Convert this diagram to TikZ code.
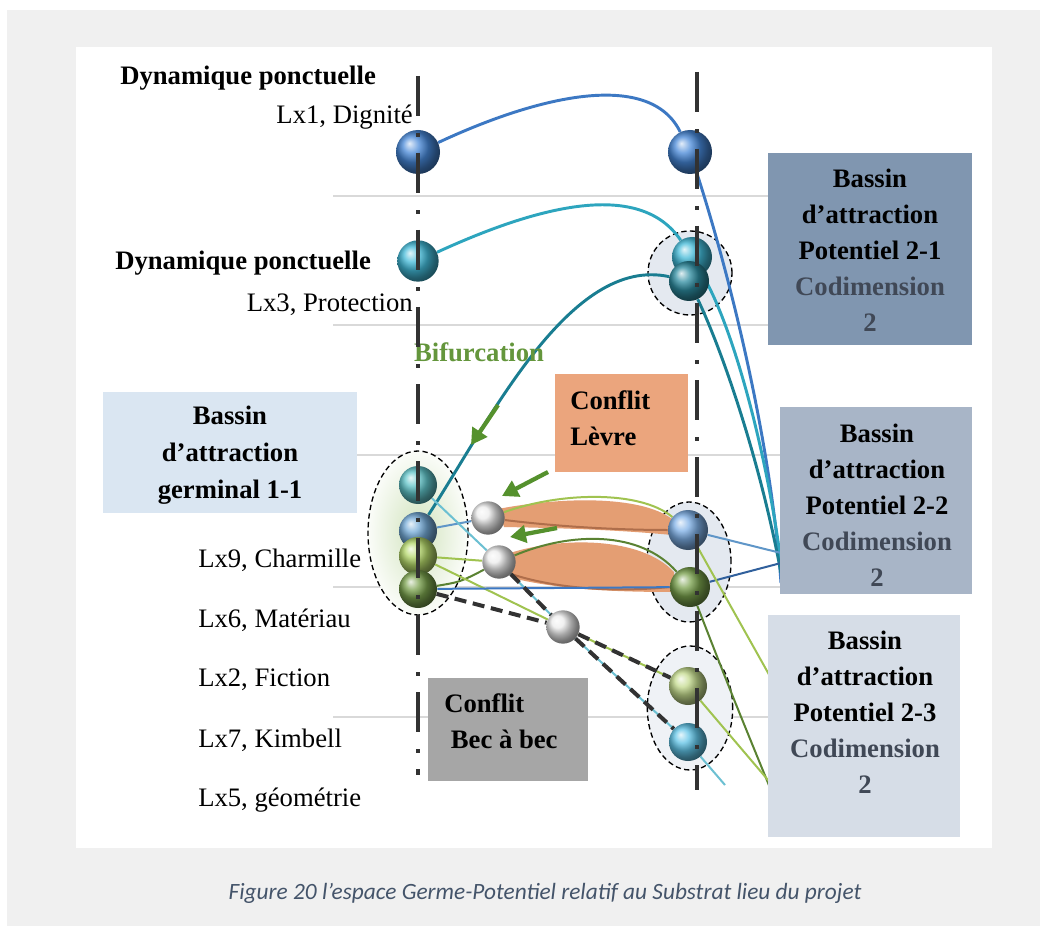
\documentclass[tikz,border=0pt]{standalone}
\usepackage{fontspec}
\setmainfont{Liberation Serif}
\newfontfamily\capfont{Carlito}
\usetikzlibrary{
    arrows.meta,
    shapes.geometric
}
\pgfdeclarelayer{grid}
\pgfdeclarelayer{curves}
\pgfsetlayers{grid,curves,main}
\definecolor{pagegray}{RGB}{240, 240, 240}
\definecolor{gridgray}{RGB}{217, 217, 217}
\definecolor{axisgray}{RGB}{50, 50, 50}
\definecolor{capblue}{RGB}{68, 84, 106}
\definecolor{ballblue}{RGB}{70, 135, 215}
\definecolor{ballcyan}{RGB}{65, 185, 215}
\definecolor{ballteal}{RGB}{45, 140, 160}
\definecolor{ballaqua}{RGB}{95, 195, 200}
\definecolor{ballsteel}{RGB}{115, 170, 215}
\definecolor{balllgreen}{RGB}{180, 215, 105}
\definecolor{balldgreen}{RGB}{120, 160, 75}
\definecolor{balllblue}{RGB}{125, 175, 230}
\definecolor{ballsky}{RGB}{95, 195, 230}
\definecolor{ballpale}{RGB}{195, 218, 140}
\definecolor{lineblue}{RGB}{60, 120, 195}
\definecolor{linecyan}{RGB}{45, 165, 190}
\definecolor{lineteal}{RGB}{25, 125, 145}
\definecolor{linesteel}{RGB}{95, 150, 200}
\definecolor{linelgreen}{RGB}{160, 195, 80}
\definecolor{linedgreen}{RGB}{90, 130, 50}
\definecolor{linebrown}{RGB}{175, 110, 75}
\definecolor{lipfill}{RGB}{228, 158, 115}
\definecolor{arrowgreen}{RGB}{85, 145, 45}
\definecolor{bifgreen}{RGB}{100, 150, 60}
\definecolor{pot21}{RGB}{128, 150, 176}
\definecolor{pot22}{RGB}{168, 181, 199}
\definecolor{pot23}{RGB}{214, 221, 231}
\definecolor{germfill}{RGB}{218, 230, 242}
\definecolor{levrefill}{RGB}{235, 165, 125}
\definecolor{becfill}{RGB}{166, 166, 166}
\definecolor{codim}{RGB}{64, 72, 86}
\definecolor{germglow}{RGB}{210, 228, 190}
\definecolor{basinfill}{RGB}{228, 233, 240}

\begin{document}
\begin{tikzpicture}[x=0.75pt, y=-0.75pt,
        ball/.style 2 args={circle, inner sep=0pt, minimum size=#1, ball color=#2},
        lbl/.style={font=\fontsize{20}{24}\selectfont, inner sep=0pt},
        blbl/.style={font=\fontsize{20}{24}\selectfont\bfseries, inner sep=0pt},
        boxtxt/.style={font=\fontsize{20}{27}\selectfont\bfseries, align=center, inner sep=0pt},
        gridline/.style={draw=gridgray, line width=1.5pt},
        axis/.style={draw=axisgray, line width=2.6pt, dash pattern=on 30pt off 13pt on 2.5pt off 12.25pt},
        basin/.style={draw=black, line width=1pt, dash pattern=on 4pt off 2.5pt},
        curve/.style={line width=2.2pt},
        thincurve/.style={line width=1.5pt},
        conflict/.style={draw=axisgray, line width=3pt, dash pattern=on 9pt off 5pt},
        hint/.style={draw=arrowgreen, line width=3.2pt, -{Triangle[length=12pt, width=13pt]}}
    ]
        \useasboundingbox (0,0) rectangle (1046,934);

        \begin{pgfonlayer}{grid}
        % Page
        \fill[pagegray] (7,10) rectangle (1040,926);
        \fill[white] (76,47) rectangle (992,848);

        % Grid
        \draw[gridline] (333,196) -- (785,196);
        \draw[gridline] (333,325) -- (785,325);
        \draw[gridline] (333,455) -- (785,455);
        \draw[gridline] (333,587) -- (785,587);
        \draw[gridline] (333,717) -- (785,717);

        % Basins
        \draw[basin, inner color=germglow, outer color=white!90!germglow] (418,533) ellipse [x radius=37.5pt, y radius=61.5pt];
        \draw[basin, fill=basinfill] (690,273) circle [radius=31.5pt];
        \draw[basin, fill=basinfill] (689,562) ellipse [x radius=31.5pt, y radius=45pt];
        \draw[basin, fill=basinfill!60!white] (690,708) ellipse [x radius=32pt, y radius=46.5pt];
        \end{pgfonlayer}

        % Germs on the left axis
        \node[ball={33pt}{ballblue}] (L1) at (418,152) {};
        \node[ball={31pt}{ballcyan}] (L3) at (418,261) {};
        \node[ball={28.5pt}{ballaqua}] (Ga) at (418,485) {};
        \node[ball={28.5pt}{ballsteel}] (Gb) at (418,531) {};
        \node[ball={28.5pt}{balllgreen}] (Gc) at (418,556) {};
        \node[ball={28.5pt}{balldgreen}] (Gd) at (418,589) {};

        % Potentials on the right axis
        \node[ball={33pt}{ballblue}] (R1) at (690,152) {};
        \node[ball={30pt}{ballcyan}] (R3a) at (692,257) {};
        \node[ball={30pt}{ballteal}] (R3b) at (689,281) {};
        \node[ball={30pt}{balllblue}] (R2a) at (688,530) {};
        \node[ball={30pt}{balldgreen}] (R2b) at (690,587) {};
        \node[ball={28.5pt}{ballpale}] (R4a) at (688,686) {};
        \node[ball={28.5pt}{ballsky}] (R4b) at (688,742) {};

        % Conflict points
        \node[ball={25pt}{gray!15}] (C1) at (488,518) {};
        \node[ball={25pt}{gray!15}] (C2) at (499,562) {};
        \node[ball={25pt}{gray!15}] (C3) at (563,627) {};

        % Free ends
        \coordinate (k1) at (781,553);
        \coordinate (k2) at (781,563);
        \coordinate (k3) at (781,573);
        \coordinate (k4) at (781,583);
        \coordinate (cyanend) at (725,785);
        \coordinate (lg1) at (790,712);
        \coordinate (lg2) at (785,800);
        \coordinate (dg1) at (775,800);

        \begin{pgfonlayer}{curves}
        % Lip conflict
        \fill[lipfill] (498,509) .. controls (560,497) and (640,495) .. (672,519) -- (672,535) .. controls (620,530) and (560,528) .. (504,527) -- cycle;
        \fill[lipfill] (510,553) .. controls (560,537) and (640,536) .. (674,572) -- (674,592) .. controls (620,592) and (560,590) .. (512,578) -- cycle;
        \draw[thincurve, linelgreen] (C1) .. controls (560,492) and (640,490) .. (R2a);
        \draw[thincurve, linebrown] (C1) .. controls (570,528) and (630,530) .. (R2a);
        \draw[thincurve, linebrown] (C2.south east) .. controls (560,590) and (620,592) .. (R2b.west);
        \draw[thincurve, linedgreen] (Gd) .. controls (460,582) .. (C2);
        \draw[thincurve, linedgreen] (C2) .. controls (570,532) and (640,530) .. (R2b);

        % Left to right
        \draw[curve, lineblue] (L1) .. controls (540,95) and (650,70) .. (R1);
        \draw[curve, linecyan] (L3) .. controls (540,205) and (640,180) .. (R3a);
        \draw[curve, lineteal] (Gb) .. controls (490,420) and (570,255) .. (R3b);

        % Down to the potential basins
        \draw[curve, lineblue] (R1) .. controls (725,260) and (770,430) .. (k4);
        \draw[curve, linecyan] (R3a) .. controls (735,330) and (768,460) .. (k2);
        \draw[curve, lineteal] (R3b) .. controls (722,350) and (760,460) .. (k3);
        \draw[thincurve, linesteel] (R2a) -- (k1);
        \draw[thincurve, lineblue!80!black] (R2b) -- (k2);
        \draw[thincurve, linelgreen] (R2a) -- (lg1);
        \draw[thincurve, linedgreen] (R2b) .. controls (730,690) .. (dg1);
        \draw[thincurve, linelgreen] (R4a) -- (lg2);

        % Germinal basin links
        \draw[thincurve, linesteel] (Gb) -- (C1);
        \draw[thincurve, linecyan!70] (Ga) -- (C2) -- (C3) -- (R4b) -- (cyanend);
        \draw[thincurve, linelgreen] (Gc) -- (C2);
        \draw[thincurve, linelgreen] (Gc) -- (C3) -- (R4a);
        \draw[thincurve, lineblue] (Gd) -- (R2b);

        % Beak to beak
        \draw[conflict] (Gd) -- (C3) -- (R4a);
        \draw[conflict] (C2) -- (C3) -- (R4b);
        \end{pgfonlayer}

        % Potential basins
        \fill[pot21] (768,153) rectangle (972,345);
        \node[boxtxt] (p21) at (870,250) {Bassin\\d’attraction\\Potentiel 2-1\\\textcolor{codim}{Codimension}\\\textcolor{codim}{2}};
        \fill[pot22] (780,407) rectangle (972,594);
        \node[boxtxt] (p22) at (877,505) {Bassin\\d’attraction\\Potentiel 2-2\\\textcolor{codim}{Codimension}\\\textcolor{codim}{2}};
        \fill[pot23] (768,615) rectangle (960,837);
        \node[boxtxt] (p23) at (865,712) {Bassin\\d’attraction\\Potentiel 2-3\\\textcolor{codim}{Codimension}\\\textcolor{codim}{2}};

        % Germinal basin
        \fill[germfill] (103,392) rectangle (357,513);
        \node[boxtxt, font=\fontsize{20}{27.75}\selectfont\bfseries] (g11) at (230,455) {Bassin\\d’attraction\\germinal 1-1};

        % Conflicts
        \fill[levrefill] (555,374) rectangle (688,472);
        \node[boxtxt, align=left, anchor=west] (lev) at (570,418) {Conflit\\Lèvre};
        \fill[becfill] (428,678) rectangle (588,781);
        \node[boxtxt, align=left, anchor=west] (bec) at (444,721) {Conflit\\\ Bec à bec};

        % Left labels
        \node[blbl, anchor=west] (dyn1) at (120,78) {Dynamique ponctuelle};
        \node[lbl, anchor=east] (lx1) at (413,117) {Lx1, Dignité};
        \node[blbl, anchor=west] (dyn3) at (115,263) {Dynamique ponctuelle};
        \node[lbl, anchor=east] (lx3) at (413,305) {Lx3, Protection};
        \node[lbl, anchor=west] (lx9) at (198,560) {Lx9, Charmille};
        \node[lbl, anchor=west] (lx6) at (198,620) {Lx6, Matériau};
        \node[lbl, anchor=west] (lx2) at (198,680) {Lx2, Fiction};
        \node[lbl, anchor=west] (lx7) at (198,740) {Lx7, Kimbell};
        \node[lbl, anchor=west] (lx5) at (198,800) {Lx5, géométrie};
        \node[blbl, text=bifgreen] (bif) at (479,352) {Bifurcation};

        % Axes
        \coordinate (axl1) at (418,76);
        \coordinate (axl2) at (418,775);
        \coordinate (axr1) at (697,72);
        \coordinate (axr2) at (697,790);
        \draw[axis] (axl1) -- (axl2);
        \draw[axis] (axr1) -- (axr2);

        % Arrows
        \coordinate (a1) at (498,405);
        \coordinate (a1t) at (471,445);
        \coordinate (a2) at (548,472);
        \coordinate (a2t) at (502,496);
        \coordinate (a3) at (557,528);
        \coordinate (a3t) at (510,537);
        \draw[hint] (a1) -- (a1t);
        \draw[hint] (a2) -- (a2t);
        \draw[hint] (a3) -- (a3t);

        % Caption
        \node[font=\capfont\itshape\fontsize{17.5}{20}\selectfont, text=capblue] (cap) at (545,893) {Figure 20 l’espace Germe-Potentiel relatif au Substrat lieu du projet};
    \end{tikzpicture}
\end{document}
